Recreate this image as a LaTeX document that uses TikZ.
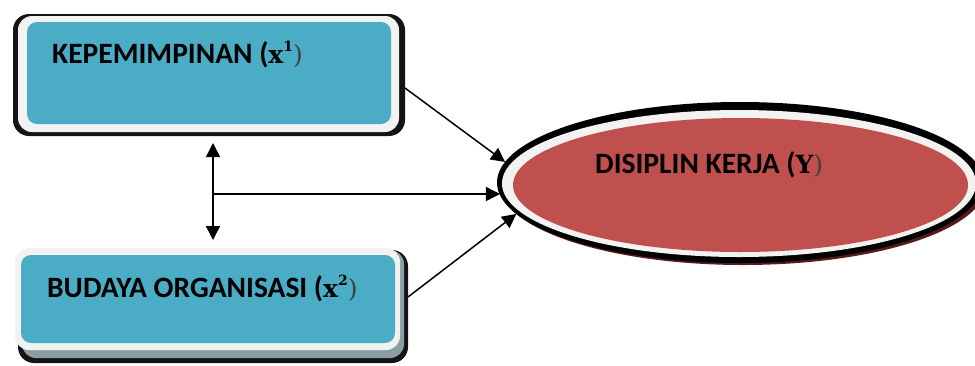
\documentclass[tikz,border=0pt]{standalone}
\usepackage{fontspec}
\setmainfont{Carlito}
\newfontfamily\symserif{DejaVu Serif}
\usetikzlibrary{arrows.meta,shapes.geometric,calc}
\definecolor{boxteal}{HTML}{4BACC6}
\definecolor{framewhite}{HTML}{F2F2F2}
\definecolor{ovalred}{HTML}{C0504D}
\definecolor{shadowgrey}{HTML}{8A9EA4}
\definecolor{ovalshade}{HTML}{5A1A1A}
\definecolor{parengrey}{HTML}{404040}
% bold serif variable with raised index, closing bracket in a lighter weight
\newcommand{\varidx}[2]{{\symserif\bfseries\fontsize{25}{25}\selectfont #1\raisebox{12pt}{\fontsize{14}{14}\selectfont #2}\mdseries\color{parengrey})}}
\newcommand{\varname}[1]{{\symserif\bfseries\fontsize{25}{25}\selectfont #1\mdseries\color{parengrey})}}
\begin{document}
\begin{tikzpicture}[x=1pt,y=-1pt,
  layer/.style={rectangle, inner sep=0pt, outer sep=0pt},
  shadowbox/.style={layer, fill=black!92, rounded corners=16pt},
  greyband/.style={layer, fill=shadowgrey, rounded corners=14pt},
  framebox/.style={layer, fill=framewhite, rounded corners=14pt},
  tealbox/.style={layer, fill=boxteal, rounded corners=10pt},
  oval/.style={ellipse, inner sep=0pt, outer sep=0pt},
  lbl/.style={anchor=base west, inner sep=0pt, font=\fontsize{29.5}{31}\selectfont\bfseries},
  arr/.style={line width=1.5pt, -{Triangle[length=14pt,width=14pt]}},
  dblarr/.style={line width=1.5pt, {Triangle[length=14pt,width=14pt]}-{Triangle[length=14pt,width=14pt]}}
]
\useasboundingbox (0,0) rectangle (975,365);
\clip (0,0) rectangle (975,365);

% --- KEPEMIMPINAN box (shadow, white frame, teal face)
\node[shadowbox, minimum width=392pt, minimum height=122pt] (kepshadow) at (209,75) {};
\node[framebox, minimum width=381pt, minimum height=116pt] (kepframe) at (208.5,74) {};
\node[tealbox, minimum width=364pt, minimum height=102pt] (kep) at (209,73) {};
\node[lbl] (keptext) at (52,63) {KEPEMIMPINAN (\varidx{x}{1}};

% --- BUDAYA ORGANISASI box
\node[shadowbox, minimum width=390pt, minimum height=113pt] (budshadow) at (213,306.5) {};
\node[greyband, minimum width=382pt, minimum height=108pt] (budband) at (213,304) {};
\node[framebox, minimum width=385pt, minimum height=102pt] (budframe) at (207.5,299) {};
\node[tealbox, minimum width=374pt, minimum height=88pt] (bud) at (208,299) {};
\node[lbl] (budtext) at (47,297) {BUDAYA ORGANISASI (\varidx{x}{2}};

% --- DISIPLIN KERJA oval
\node[oval, fill=ovalshade, minimum width=486pt, minimum height=160pt] (dkshade) at (743,185) {};
\node[oval, fill=black, minimum width=486pt, minimum height=161pt] (dk) at (740,182.5) {};
\node[oval, fill=framewhite, minimum width=474pt, minimum height=147pt] (dkframe) at (739,183.5) {};
\node[oval, fill=ovalred, minimum width=455pt, minimum height=134pt] (dkface) at (740.5,185) {};
\node[lbl] (dktext) at (595,173) {DISIPLIN KERJA (\varname{Y}};

% --- connectors
\coordinate (vtop) at (213,143);
\coordinate (vbot) at (213,240);
\coordinate (vmid) at (213,194);
\draw[dblarr] (vtop) -- (vbot);
\draw[arr] (vmid) -- (vmid -| dk.183);
\draw[arr] (kepshadow.east |- 0,88) -- (dk.175);
\draw[arr] (budshadow.east |- 0,297) -- (dk.188);
\end{tikzpicture}
\end{document}
